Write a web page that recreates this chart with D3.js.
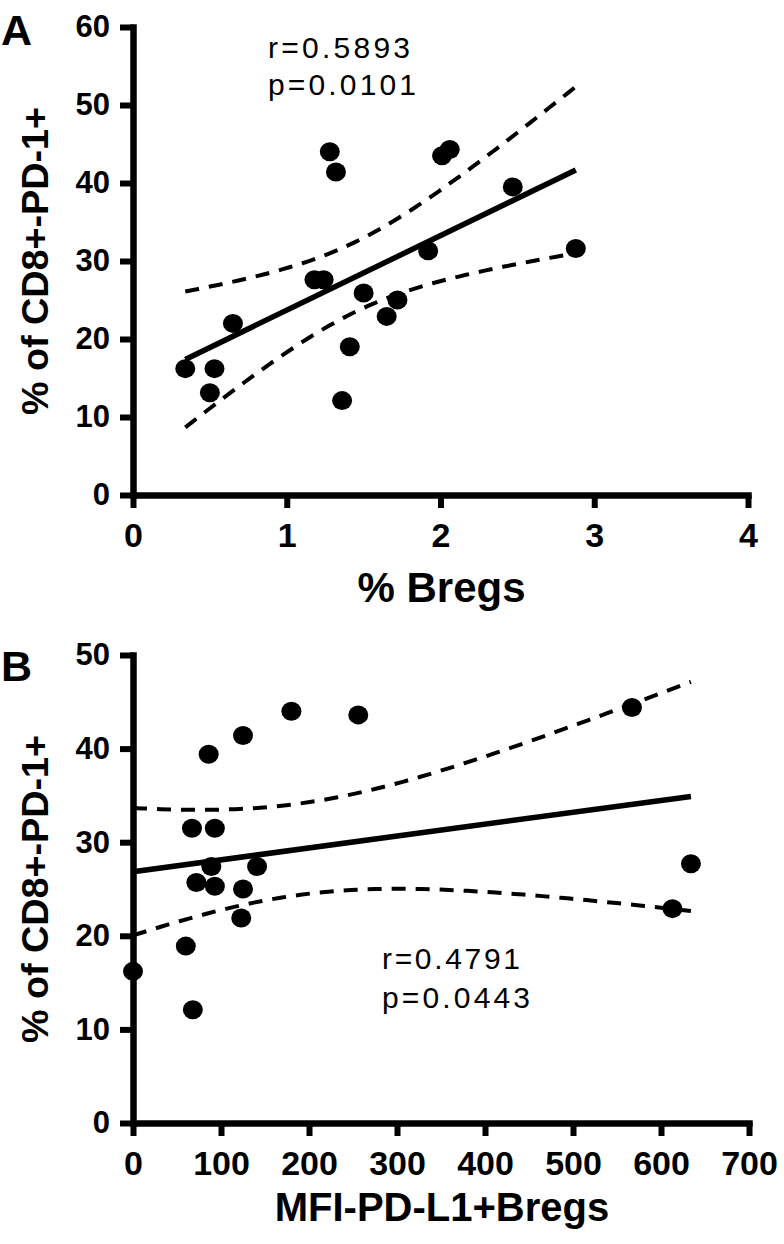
<!DOCTYPE html>
<html>
<head>
<meta charset="utf-8">
<script src="https://cdn.jsdelivr.net/npm/d3@7"></script>
<style>
  html, body { margin: 0; padding: 0; background: #fff; }
  svg { display: block; }
  text { font-family: "Liberation Sans", Arial, Helvetica, sans-serif; fill: #000; }
</style>
</head>
<body>
<svg id="chart" width="784" height="1244"></svg>
<script>
// ---------- Data ----------
// Panel A: % Bregs vs % of CD8+-PD-1+
const bregsPct = [0.34, 0.53, 0.50, 0.65, 1.18, 1.24, 1.50, 1.41, 1.36, 1.65, 1.72, 1.92, 1.28, 1.32, 2.01, 2.06, 2.47, 2.88];
const cd8PD1_A = [16.2, 16.2, 13.1, 22.0, 27.6, 27.6, 25.9, 19.0, 12.1, 22.9, 25.0, 31.3, 44.0, 41.4, 43.5, 44.3, 39.5, 31.6];
// Panel B: MFI-PD-L1+Bregs vs % of CD8+-PD-1+
const mfiPDL1 = [86, 125, 180, 256, 67, 93, 89, 141, 72, 93, 125, 123, 60, 0, 68, 567, 634, 613];
const cd8PD1_B = [39.4, 41.4, 44.0, 43.6, 31.5, 31.5, 27.4, 27.4, 25.7, 25.3, 25.0, 21.9, 18.9, 16.2, 12.1, 44.4, 27.7, 22.9];

// Tick values
const aXTicks = [0, 1, 2, 3, 4];
const aYTicks = [0, 10, 20, 30, 40, 50, 60];
const bXTicks = [0, 100, 200, 300, 400, 500, 600, 700];
const bYTicks = [0, 10, 20, 30, 40, 50];

// Labels
const panelLetters = ["A", "B"];
const xTitles = ["% Bregs", "MFI-PD-L1+Bregs"];
const yTitle = "% of CD8+-PD-1+";
const statsA = ["r=0.5893", "p=0.0101"];
const statsB = ["r=0.4791", "p=0.0443"];
const tCrit = 2.12; // t(0.975, df = 16)

// ---------- Drawing ----------
const svg = d3.select("#chart");
const FONT = '"Liberation Sans", Arial, Helvetica, sans-serif';

function drawPanel(cfg) {
  const g = svg.append("g");
  const x = d3.scaleLinear().domain(cfg.xDomain).range(cfg.xRange);
  const y = d3.scaleLinear().domain(cfg.yDomain).range(cfg.yRange);

  // regression + 95% confidence band computed from the points
  const n = cfg.xs.length;
  const mx = d3.mean(cfg.xs), my = d3.mean(cfg.ys);
  let sxy = 0, sxx = 0;
  for (let i = 0; i < n; i++) { sxy += (cfg.xs[i] - mx) * (cfg.ys[i] - my); sxx += (cfg.xs[i] - mx) ** 2; }
  const slope = sxy / sxx, icpt = my - slope * mx;
  let ssr = 0;
  for (let i = 0; i < n; i++) ssr += (cfg.ys[i] - (icpt + slope * cfg.xs[i])) ** 2;
  const s = Math.sqrt(ssr / (n - 2));
  const [x0, x1] = d3.extent(cfg.xs);
  const samples = d3.range(0, 61).map(k => x0 + (x1 - x0) * k / 60);
  const fit = v => icpt + slope * v;
  const half = v => tCrit * s * Math.sqrt(1 / n + (v - mx) ** 2 / sxx);

  const line = d3.line().x(d => x(d[0])).y(d => y(d[1]));

  [1, -1].forEach(sign => {
    g.append("path")
      .datum(samples.map(v => [v, fit(v) + sign * half(v)]))
      .attr("d", line).attr("fill", "none").attr("stroke", "#000")
      .attr("stroke-width", 4).attr("stroke-dasharray", "14,10");
  });
  g.append("path")
    .datum([[x0, fit(x0)], [x1, fit(x1)]])
    .attr("d", line).attr("fill", "none").attr("stroke", "#000")
    .attr("stroke-width", 5.5);

  // points
  g.append("g").selectAll("ellipse")
    .data(cfg.xs.map((v, i) => [v, cfg.ys[i]]))
    .join("ellipse")
    .attr("cx", d => x(d[0])).attr("cy", d => y(d[1]))
    .attr("rx", 10).attr("ry", 9.5).attr("fill", "#000");

  // axes
  const yAxis = g.append("g")
    .attr("transform", `translate(${cfg.xRange[0]},0)`)
    .call(d3.axisLeft(y).tickValues(cfg.yTicks).tickFormat(d3.format("d"))
      .tickSize(13).tickSizeOuter(0).tickPadding(10));
  yAxis.attr("font-size", null).attr("font-family", null);
  yAxis.selectAll("text")
    .style("font-size", "31px").style("font-weight", "bold").style("font-family", FONT);

  const xAxis = g.append("g")
    .attr("transform", `translate(0,${cfg.yRange[0]})`)
    .call(d3.axisBottom(x).tickValues(cfg.xTicks).tickFormat(d3.format("d"))
      .tickSize(13).tickSizeOuter(0));
  xAxis.attr("font-size", null).attr("font-family", null);
  xAxis.selectAll("text")
    .attr("y", 52).attr("dy", 0)
    .style("font-size", "34px").style("font-weight", "bold").style("font-family", FONT);

  [yAxis, xAxis].forEach(ax => {
    ax.select(".domain").attr("stroke", "#000").attr("stroke-width", 6.5).attr("stroke-linecap", "square");
    ax.selectAll(".tick line").attr("stroke", "#000").attr("stroke-width", 6);
  });

  // panel letter
  g.append("text").attr("x", 1).attr("y", cfg.letterY)
    .style("font-size", "43px").style("font-weight", "bold").text(cfg.letter);

  // x title
  g.append("text")
    .attr("x", (cfg.xRange[0] + cfg.xRange[1]) / 2 + 1).attr("y", cfg.xTitleY)
    .attr("text-anchor", "middle")
    .style("font-size", cfg.xTitleSize + "px").style("font-weight", "bold")
    .text(cfg.xTitle);

  // y title
  const yc = (cfg.yRange[0] + cfg.yRange[1]) / 2;
  g.append("text")
    .attr("transform", `translate(48,${yc}) rotate(-90)`)
    .attr("text-anchor", "middle")
    .style("font-size", "37px").style("font-weight", "bold")
    .attr("textLength", 308).attr("lengthAdjust", "spacingAndGlyphs")
    .text(yTitle);

  // stats
  cfg.stats.forEach((t, i) => {
    g.append("text").attr("x", cfg.statsX).attr("y", cfg.statsY[i])
      .style("font-size", "30px")
      .attr("textLength", cfg.statsLen[i]).attr("lengthAdjust", "spacing")
      .text(t);
  });
}

drawPanel({
  xs: bregsPct, ys: cd8PD1_A,
  xDomain: [0, 4], yDomain: [0, 60],
  xRange: [133, 748], yRange: [495, 27],
  xTicks: aXTicks, yTicks: aYTicks,
  letter: panelLetters[0], letterY: 45,
  xTitle: xTitles[0], xTitleY: 602, xTitleSize: 42,
  stats: statsA, statsX: 268, statsY: [58, 95], statsLen: [142, 148]
});

drawPanel({
  xs: mfiPDL1, ys: cd8PD1_B,
  xDomain: [0, 700], yDomain: [0, 50],
  xRange: [133, 749], yRange: [1123, 655],
  xTicks: bXTicks, yTicks: bYTicks,
  letter: panelLetters[1], letterY: 681,
  xTitle: xTitles[1], xTitleY: 1221, xTitleSize: 40,
  stats: statsB, statsX: 382, statsY: [969, 1008], statsLen: [138, 148]
});
</script>
</body>
</html>
